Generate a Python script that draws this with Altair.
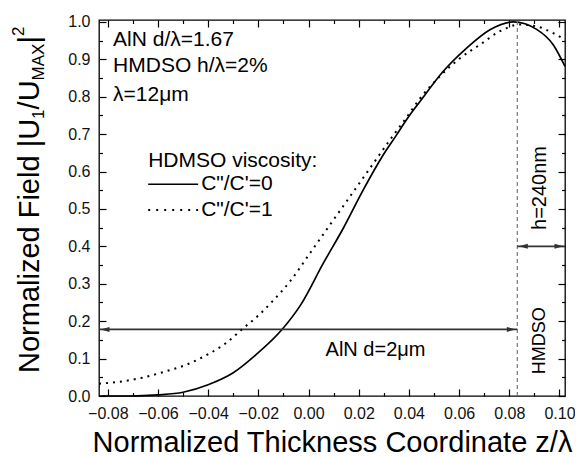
import altair as alt
import pandas as pd

# ---------------- data ----------------
z_solid = [-0.0835, -0.075, -0.068, -0.060, -0.050, -0.040, -0.030, -0.021, -0.0104, -0.003,
           0.0059, 0.0139, 0.0218, 0.0298, 0.0351, 0.0391, 0.0444, 0.0537, 0.063, 0.0723,
           0.0816, 0.0909, 0.0975, 0.1022]
v_solid = [0.0, 0.0, 0.0005, 0.003, 0.010, 0.030, 0.062, 0.110, 0.179, 0.245,
           0.355, 0.449, 0.551, 0.645, 0.698, 0.739, 0.787, 0.868, 0.930, 0.979,
           1.0, 0.980, 0.939, 0.881]

z_dot = [-0.0835, -0.0755, -0.0662, -0.0569, -0.0489, -0.041, -0.033, -0.0264, -0.0197, -0.0144,
         -0.0074, 0.0006, 0.0086, 0.0165, 0.0245, 0.0325, 0.0391, 0.0444, 0.0524, 0.0604,
         0.0683, 0.0763, 0.0843, 0.0909, 0.0975, 0.1022]
v_dot = [0.033, 0.038, 0.049, 0.066, 0.083, 0.108, 0.141, 0.179, 0.217, 0.253,
         0.306, 0.382, 0.458, 0.533, 0.609, 0.685, 0.745, 0.795, 0.855, 0.903,
         0.939, 0.975, 0.993, 0.988, 0.970, 0.952]

x_major = [-0.08, -0.06, -0.04, -0.02, 0.0, 0.02, 0.04, 0.06, 0.08, 0.10]
x_minor = [-0.07, -0.05, -0.03, -0.01, 0.01, 0.03, 0.05, 0.07, 0.09]
y_major = [0.0, 0.1, 0.2, 0.3, 0.4, 0.5, 0.6, 0.7, 0.8, 0.9, 1.0]
y_minor = [0.05, 0.15, 0.25, 0.35, 0.45, 0.55, 0.65, 0.75, 0.85, 0.95]

X_DOMAIN = [-0.0835, 0.1022]
Y_DOMAIN = [0.0, 1.005]

interface_z = 0.0832        # AlN / HMDSO interface
aln_arrow_v = 0.178
h_arrow_v = 0.40

legend_z = [-0.0639, -0.0440]
legend_v = [0.566, 0.497]
legend_labels = ["C\"/C'=0", "C\"/C'=1"]

info_lines = ["AlN d/\u03bb=1.67", "HMDSO h/\u03bb=2%", "\u03bb=12\u03bcm"]
info_v = [0.951, 0.881, 0.805]
info_z = -0.0779

FONT = "Liberation Sans"
W, H = 466, 376

xs = alt.Scale(domain=X_DOMAIN, nice=False, zero=False)
ys = alt.Scale(domain=Y_DOMAIN, nice=False, zero=False)

X = lambda f: alt.X(f, scale=xs, axis=None)
Y = lambda f: alt.Y(f, scale=ys, axis=None)

df_solid = pd.DataFrame({"z": z_solid, "v": v_solid})
df_dot = pd.DataFrame({"z": z_dot, "v": v_dot})

# main axes: labels plus inward major ticks (negative tick length given as an expression)
solid = alt.Chart(df_solid).mark_line(color="black", strokeWidth=1.7, interpolate="monotone").encode(
    x=alt.X("z:Q", scale=xs, axis=alt.Axis(
        values=x_major, format=".2f", orient="bottom", ticks=True, tickSize={"expr": "-7"},
        tickColor="black", tickWidth=1.2, domain=False,
        grid=False, labelFontSize=16, labelFont=FONT, labelColor="#111", labelPadding=16,
        labelFlush=False, labelOverlap=False,
        title="Normalized Thickness Coordinate z/\u03bb", titleFont=FONT, titleFontSize=29,
        titleFontWeight="normal", titleColor="black", titleBaseline="alphabetic", titleY=55)),
    y=alt.Y("v:Q", scale=ys, axis=alt.Axis(
        values=y_major, format=".1f", orient="left", ticks=True, tickSize={"expr": "-7"},
        tickColor="black", tickWidth=1.2, domain=False,
        grid=False, labelFontSize=16, labelFont=FONT, labelColor="#111", labelPadding=16,
        labelFlush=False, labelOverlap=False, title="")),
)


def tick_axis(values, orient, length):
    return alt.Axis(values=values, orient=orient, ticks=True, tickSize={"expr": str(-length)},
                    tickColor="black", tickWidth=1.2, labels=False, domain=False,
                    grid=False, title="")


dotted = alt.Chart(df_dot).mark_line(color="black", strokeWidth=2, strokeDash=[2, 5],
                                     interpolate="monotone").encode(
    x=alt.X("z:Q", scale=xs, axis=tick_axis(x_minor, "bottom", 3.5)),
    y=alt.Y("v:Q", scale=ys, axis=tick_axis(y_minor, "left", 3.5)))

ghost_major = alt.Chart(df_solid).mark_point(opacity=0).encode(
    x=alt.X("z:Q", scale=xs, axis=tick_axis(x_major, "top", 7)),
    y=alt.Y("v:Q", scale=ys, axis=tick_axis(y_major, "right", 7)))
ghost_minor = alt.Chart(df_solid).mark_point(opacity=0).encode(
    x=alt.X("z:Q", scale=xs, axis=tick_axis(x_minor, "top", 3.5)),
    y=alt.Y("v:Q", scale=ys, axis=tick_axis(y_minor, "right", 3.5)))

# dimension arrows
df_arrows = pd.DataFrame({
    "z0": [X_DOMAIN[0], interface_z],
    "z1": [interface_z, X_DOMAIN[1]],
    "v": [aln_arrow_v, h_arrow_v],
})
arrow_lines = alt.Chart(df_arrows).mark_rule(color="#333333", strokeWidth=1.6).encode(
    x=X("z0:Q"), x2="z1:Q", y=Y("v:Q"))

# dashed interface line
df_iface = pd.DataFrame({"z": [interface_z], "v0": [Y_DOMAIN[0]], "v1": [Y_DOMAIN[1]]})
iface = alt.Chart(df_iface).mark_rule(color="#777777", strokeWidth=1.2, strokeDash=[4, 3]).encode(
    x=X("z:Q"), y=Y("v0:Q"), y2="v1:Q")

LEFT_HEAD = "M0,0 L2,-0.55 L2,0.55 Z"
RIGHT_HEAD = "M0,0 L-2,-0.55 L-2,0.55 Z"
heads_left = alt.Chart(pd.DataFrame({"z": [X_DOMAIN[0], interface_z], "v": [aln_arrow_v, h_arrow_v]})).mark_point(
    shape=LEFT_HEAD, filled=True, color="#333333", opacity=1, size=81, xOffset=1.5).encode(
    x=X("z:Q"), y=Y("v:Q"))
heads_right = alt.Chart(pd.DataFrame({"z": [interface_z, X_DOMAIN[1]], "v": [aln_arrow_v, h_arrow_v]})).mark_point(
    shape=RIGHT_HEAD, filled=True, color="#333333", opacity=1, size=81, xOffset=-1.5).encode(
    x=X("z:Q"), y=Y("v:Q"))

# info text top-left
df_info = pd.DataFrame({"z": [info_z] * 3, "v": info_v, "t": info_lines})
info = alt.Chart(df_info).mark_text(align="left", baseline="middle", font=FONT, fontSize=21,
                                    color="black").encode(x=X("z:Q"), y=Y("v:Q"), text="t:N")

# legend
df_leg_title = pd.DataFrame({"z": [legend_z[0]], "v": [0.628], "t": ["HDMSO viscosity:"]})
leg_title = alt.Chart(df_leg_title).mark_text(align="left", baseline="middle", font=FONT, fontSize=21,
                                              color="black").encode(x=X("z:Q"), y=Y("v:Q"), text="t:N")
leg_solid = alt.Chart(pd.DataFrame({"z": legend_z, "v": [legend_v[0]] * 2})).mark_line(
    color="black", strokeWidth=1.7).encode(x=X("z:Q"), y=Y("v:Q"))
leg_dot = alt.Chart(pd.DataFrame({"z": legend_z, "v": [legend_v[1]] * 2})).mark_line(
    color="black", strokeWidth=2, strokeDash=[2, 6]).encode(x=X("z:Q"), y=Y("v:Q"))
df_leg_lab = pd.DataFrame({"z": [legend_z[1] + 0.0012] * 2, "v": legend_v, "t": legend_labels})
leg_labels = alt.Chart(df_leg_lab).mark_text(align="left", baseline="middle", font=FONT, fontSize=21,
                                             color="black").encode(x=X("z:Q"), y=Y("v:Q"), text="t:N")

# annotations
aln_text = alt.Chart(pd.DataFrame({"z": [0.0267], "v": [0.123], "t": ["AlN d=2\u03bcm"]})).mark_text(
    align="center", baseline="middle", font=FONT, fontSize=20, color="black").encode(
    x=X("z:Q"), y=Y("v:Q"), text="t:N")
rot_text = alt.Chart(pd.DataFrame({"z": [0.0922, 0.0922], "v": [0.556, 0.148],
                                   "t": ["h=240nm", "HMDSO"], "s": [20, 18]})).mark_text(
    align="center", baseline="middle", font=FONT, angle=270, color="black").encode(
    x=X("z:Q"), y=Y("v:Q"), text="t:N", size=alt.Size("s:Q", scale=None, legend=None))

# y-axis title with sub/superscripts, built from pieces (pixel layout of the title)
def title_piece(text, px, py, size):
    return alt.Chart(pd.DataFrame({"t": [text]})).mark_text(
        align="left", baseline="alphabetic", angle=270, font=FONT, fontSize=size, color="black"
    ).encode(x=alt.value(px), y=alt.value(py), text="t:N")

ytitle = [
    title_piece("Normalized Field |U", -60, 353, 29),
    title_piece("1", -55, 98.9, 17),
    title_piece("/U", -60, 89.4, 29),
    title_piece("MAX", -55, 60.4, 17),
    title_piece("|", -60, 23.6, 29),
    title_piece("2", -75, 16.1, 17),
]

chart = alt.layer(
    solid, ghost_major, ghost_minor, iface, arrow_lines, heads_left, heads_right,
    dotted, info, leg_title, leg_solid, leg_dot, leg_labels, aln_text, rot_text,
    *ytitle
).resolve_axis(x="independent", y="independent").properties(
    width=W, height=H,
    autosize=alt.AutoSizeParams(type="none"),
    padding={"left": 91, "top": 12, "right": 10, "bottom": 61},
).configure_view(stroke="black", strokeWidth=1.3).configure_axis(grid=False)

chart.save("out.html", embed_options={"renderer": "svg", "actions": False})
